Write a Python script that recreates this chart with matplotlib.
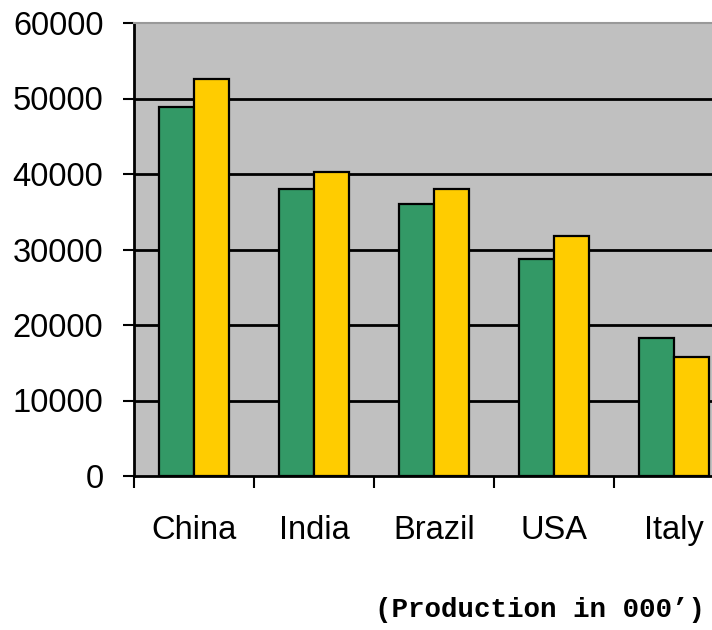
import matplotlib
matplotlib.use("Agg")
import matplotlib.pyplot as plt
import numpy as np

categories = ["China", "India", "Brazil", "USA", "Italy"]
series_green = [48900, 38000, 36000, 28700, 18300]
series_yellow = [52600, 40200, 38000, 31800, 15700]
yticks = [0, 10000, 20000, 30000, 40000, 50000, 60000]
note = "(Production in 000\u2019)"

plt.rcParams['font.family'] = ['Liberation Sans', 'DejaVu Sans']

fig = plt.figure(figsize=(7.12, 6.30), dpi=100)
left = 134 / 712
bottom = 1 - 476 / 630
top = 1 - 23 / 630
right = 734 / 712
ax = fig.add_axes([left, bottom, right - left, top - bottom])
ax.set_facecolor('#C0C0C0')

x = np.arange(len(categories))
w = 0.29
ax.bar(x - w / 2, series_green, width=w, color='#339966', edgecolor='black', linewidth=1.6, zorder=3)
ax.bar(x + w / 2, series_yellow, width=w, color='#FFCC00', edgecolor='black', linewidth=1.6, zorder=3)

ax.set_xlim(-0.5, len(categories) - 0.5)
ax.set_ylim(yticks[0], yticks[-1])
for v in yticks[1:-1]:
    ax.axhline(v, color='black', linewidth=2.0, zorder=1)

ax.set_yticks(yticks)
ax.set_yticklabels([str(v) for v in yticks])
ax.tick_params(axis='y', direction='out', length=8, width=1.5, pad=14, labelsize=23.5, colors='black')

ax.set_xticks(x)
ax.set_xticklabels(categories)
ax.set_xticks(np.arange(-0.5, len(categories), 1.0), minor=True)
ax.tick_params(axis='x', which='major', length=0, pad=28, labelsize=23.5)
ax.tick_params(axis='x', which='minor', direction='out', length=8.5, width=1.5)

for s in ['left', 'bottom']:
    ax.spines[s].set_color('black')
    ax.spines[s].set_linewidth(2.0)
ax.spines['top'].set_color('#999999')
ax.spines['top'].set_linewidth(1.5)
ax.spines['right'].set_visible(False)

fig.text(705 / 712, 1 - 610 / 630, note, ha='right', va='center',
         family=['Liberation Mono', 'DejaVu Sans Mono'], fontweight='bold', fontsize=19.8)

fig.savefig('out.png', dpi=100)
